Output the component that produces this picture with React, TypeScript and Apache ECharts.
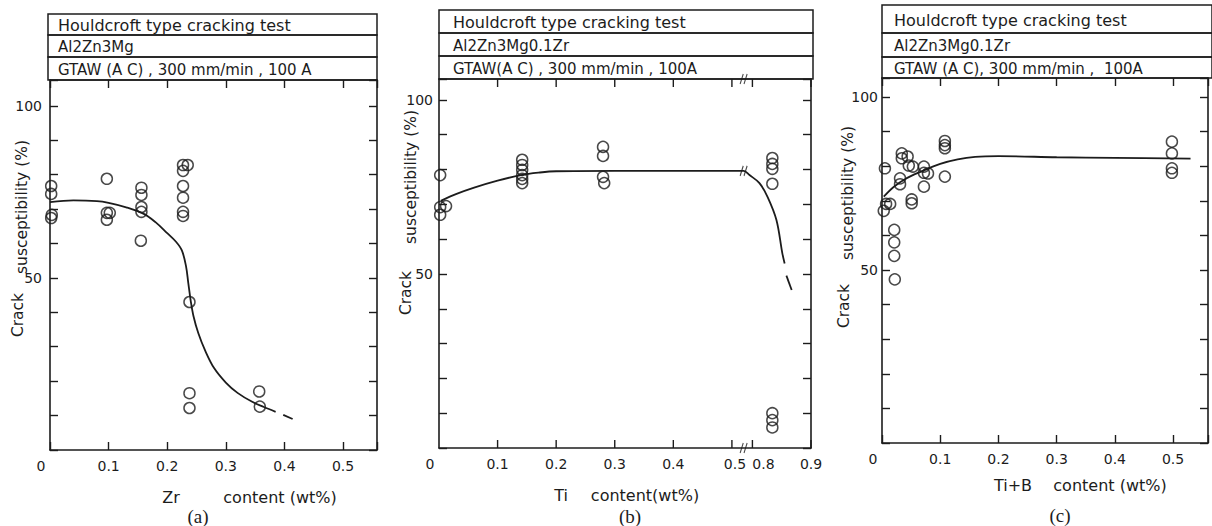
import React, { useEffect, useRef } from "react";
import * as echarts from "echarts";

const FONT = "'DejaVu Sans', 'Noto Sans', sans-serif";
const SERIF = "'Liberation Serif', 'DejaVu Serif', serif";
const INK = "#1c1c1c";

// ---------- common texts ----------
const headerTitle = "Houldcroft type cracking test";
const alloyA = "Al2Zn3Mg";
const alloyB = "Al2Zn3Mg0.1Zr";
const alloyC = "Al2Zn3Mg0.1Zr";
const weldA = "GTAW (A C) , 300 mm/min , 100 A";
const weldB = "GTAW(A C) , 300 mm/min , 100A";
const weldC = "GTAW (A C), 300 mm/min ,  100A";
const yTitleTop = "susceptibility (%)";
const yTitleBottom = "Crack";

// ---------- y axis (all panels) ----------
const yTickStep = 10;
const yLabelValues = [50, 100];

// ---------- panel (a): Zr ----------
const zrPoints = [
  [0.002, 76.7], [0.002, 74.4], [0.003, 68.3], [0.002, 67.4],
  [0.097, 78.8], [0.097, 68.9], [0.097, 66.9], [0.102, 68.9],
  [0.156, 76.2], [0.156, 74.1], [0.156, 70.6], [0.156, 69.2], [0.155, 60.8],
  [0.227, 82.8], [0.235, 82.8], [0.227, 81.1], [0.227, 76.7], [0.227, 73.3], [0.227, 69.2], [0.227, 68.0],
  [0.238, 43.0], [0.238, 16.5], [0.238, 12.2],
  [0.357, 17.0], [0.358, 12.6],
];
const zrCurve = [
  [0.0, 72.0], [0.04, 72.5], [0.08, 72.3], [0.1, 71.8], [0.13, 70.5], [0.16, 68.6],
  [0.18, 66.2], [0.2, 63.0], [0.215, 60.5], [0.225, 58.0], [0.232, 53.5], [0.236, 48.5],
  [0.24, 43.5], [0.245, 38.8], [0.253, 34.0], [0.265, 28.8], [0.28, 23.8], [0.3, 19.6],
  [0.32, 16.6], [0.345, 14.0], [0.365, 12.5], [0.385, 11.1],
];
const zrCurveTail = [[0.398, 10.2], [0.414, 9.0]];
const zrXStep = 0.1;
const zrXLabels = [0, 0.1, 0.2, 0.3, 0.4, 0.5];

// ---------- panel (b): Ti (broken axis 0.52 -> 0.785) ----------
const tiBreakStart = 0.52;
const tiBreakShift = 0.265;
const tiPoints = [
  [0.002, 78.4], [0.002, 69.2], [0.002, 67.0], [0.012, 69.5],
  [0.142, 82.8], [0.142, 81.3], [0.142, 79.9], [0.142, 78.4], [0.142, 77.3], [0.142, 76.1],
  [0.28, 86.5], [0.28, 83.9], [0.28, 77.9], [0.282, 76.1],
  [0.834, 83.3], [0.834, 81.6], [0.834, 80.2], [0.834, 75.9],
  [0.834, 10.0], [0.834, 8.0], [0.834, 5.9],
];
const tiCurve = [
  [0.003, 71.0], [0.03, 73.0], [0.06, 74.8], [0.1, 76.8], [0.14, 78.4], [0.17, 79.1],
  [0.2, 79.5], [0.3, 79.6], [0.4, 79.6], [0.52, 79.6],
  [0.795, 78.4], [0.812, 76.1], [0.826, 72.1], [0.841, 65.5], [0.851, 56.0], [0.855, 53.0],
];
const tiCurveTail = [[0.858, 49.5], [0.867, 45.4]];
const tiXTicks = [0.1, 0.2, 0.3, 0.4, 0.5, 0.8, 0.9];
const tiXLabels = [0, 0.1, 0.2, 0.3, 0.4, 0.5, 0.8, 0.9];
const tiBreakMarkY = [0, 106, 79.6];

// ---------- panel (c): Ti+B ----------
const tibPoints = [
  [0.005, 79.4], [0.003, 67.1], [0.007, 69.1], [0.014, 69.1],
  [0.021, 61.6], [0.021, 58.0], [0.021, 54.1], [0.022, 47.3],
  [0.031, 76.5], [0.031, 74.8], [0.034, 83.7], [0.034, 82.3],
  [0.044, 82.8], [0.046, 80.2], [0.053, 79.9], [0.051, 70.4], [0.051, 69.3],
  [0.072, 79.9], [0.072, 78.1], [0.072, 74.1], [0.079, 77.9],
  [0.108, 87.3], [0.108, 86.1], [0.108, 85.2], [0.108, 77.0],
  [0.498, 87.1], [0.498, 83.7], [0.498, 79.4], [0.498, 78.1],
];
const tibCurve = [
  [0.003, 71.2], [0.02, 74.0], [0.04, 76.3], [0.065, 78.3], [0.1, 80.7], [0.13, 82.0],
  [0.16, 82.7], [0.2, 82.9], [0.3, 82.6], [0.4, 82.4], [0.53, 82.2],
];
const tibXStep = 0.1;
const tibXLabels = [0, 0.1, 0.2, 0.3, 0.4, 0.5];

// ---------- helpers ----------
const tiToDisplay = (v: number) => (v > tiBreakStart + 1e-9 ? v - tiBreakShift : v);
const tiFromDisplay = (d: number) => (d > tiBreakStart + 1e-6 ? d + tiBreakShift : d);
const fmtTick = (v: number) => (Math.abs(v) < 1e-9 ? "{z|0}" : v.toFixed(1));
const fmtTiTick = (d: number) => {
  const v = tiFromDisplay(d);
  const s = fmtTick(v);
  if (Math.abs(v - 0.5) < 1e-6) return "{l|" + s + "}";
  if (Math.abs(v - 0.8) < 1e-6) return "{r|" + s + "}";
  return s;
};

const axisLine = { show: true, onZero: false, lineStyle: { color: INK, width: 1.6 } };
const tickStyle = { color: INK, width: 1.4 };
const richBase = { fontFamily: FONT, fontSize: 14, color: INK };

function xPair(gi: number, max: number, step: number | null, labels: number[], fmt: (v: number) => string) {
  const base: any = {
    type: "value", gridIndex: gi, min: 0, max, splitLine: { show: false }, axisLine,
    ...(step ? { interval: step } : {}),
  };
  const tick: any = { show: !!step, inside: true, length: 8, lineStyle: tickStyle };
  return [
    {
      ...base, position: "bottom", axisTick: tick,
      axisLabel: {
        show: true, customValues: labels, formatter: fmt, margin: 9,
        color: INK, fontFamily: FONT, fontSize: 14,
        rich: {
          z: { ...richBase, padding: [0, 18, 0, 0] },
          l: { ...richBase, padding: [0, 0, 0, 6] },
          r: { ...richBase, padding: [0, 0, 0, 22] },
        },
      },
    },
    { ...base, position: "top", axisTick: tick, axisLabel: { show: false } },
  ];
}

function yPair(gi: number, max: number, margin: number) {
  const base: any = {
    type: "value", gridIndex: gi, min: 0, max, interval: yTickStep, splitLine: { show: false }, axisLine,
  };
  const tick = { show: true, inside: true, length: 8, lineStyle: tickStyle };
  return [
    {
      ...base, position: "left", axisTick: tick,
      axisLabel: {
        show: true, customValues: yLabelValues, margin, color: INK, fontFamily: FONT, fontSize: 14,
        formatter: (v: number) => (v === 50 || v === 100 ? String(v) : ""),
      },
    },
    { ...base, position: "right", axisTick: tick, axisLabel: { show: false } },
  ];
}

function scatter(gi: number, data: number[][]) {
  return {
    type: "scatter", xAxisIndex: gi * 2, yAxisIndex: gi * 2, data, symbol: "circle", symbolSize: 11,
    itemStyle: { color: "rgba(0,0,0,0)", borderColor: INK, borderWidth: 1.5 }, silent: true, z: 3,
  };
}
function curve(gi: number, data: number[][]) {
  return {
    type: "line", xAxisIndex: gi * 2, yAxisIndex: gi * 2, data, smooth: 0.35, symbol: "none",
    lineStyle: { color: INK, width: 1.8 }, silent: true, z: 2,
  };
}

const grids = [
  { left: 50, top: 80, width: 327, height: 370 },
  { left: 439, top: 79, width: 372, height: 369 },
  { left: 882, top: 78, width: 326, height: 365 },
];
const yMaxes = [107.5, 106, 105.5];
const xMaxes = [0.558, 0.635, 0.56];

const headers = [
  { x: 48, w: 329, rows: [14, 35, 57, 80], tx: 58, texts: [headerTitle, alloyA, weldA] },
  { x: 439, w: 374, rows: [10, 33, 56, 79], tx: 453, texts: [headerTitle, alloyB, weldB] },
  { x: 882, w: 330, rows: [5, 33, 57, 78], tx: 894, texts: [headerTitle, alloyC, weldC] },
];

const yTitles = [
  { top: [22, 207], bottom: [18, 315] },
  { top: [411, 177], bottom: [406, 293] },
  { top: [848, 193], bottom: [844, 306] },
];
const xTitles = [
  { lead: "Zr", leadPos: [171, 497], rest: "content (wt%)", restPos: [280, 497] },
  { lead: "Ti", leadPos: [561, 495], rest: "content(wt%)", restPos: [645, 495] },
  { lead: "Ti+B", leadPos: [1013, 485], rest: "content (wt%)", restPos: [1110, 485] },
];
const captions = [
  { t: "(a)", p: [198, 516] },
  { t: "(b)", p: [630, 516] },
  { t: "(c)", p: [1060, 515] },
];

function txt(text: string, x: number, y: number, size: number, opts: any = {}) {
  return {
    type: "text", x, y, rotation: opts.rotation || 0, silent: true,
    style: {
      text, fill: INK, fontSize: size, fontFamily: opts.family || FONT,
      align: opts.align || "center", textAlign: opts.align || "center",
      verticalAlign: "middle", textVerticalAlign: "middle",
    },
  };
}

function buildOption() {
  const graphic: any[] = [];
  headers.forEach((h) => {
    for (let r = 0; r < 3; r++) {
      graphic.push({
        type: "rect", silent: true,
        shape: { x: h.x, y: h.rows[r], width: h.w, height: h.rows[r + 1] - h.rows[r] },
        style: { fill: "none", stroke: INK, lineWidth: 1.5 },
      });
      graphic.push(txt(h.texts[r], h.tx, (h.rows[r] + h.rows[r + 1]) / 2 + 1, r === 0 ? 16 : 15, { align: "left" }));
    }
  });
  yTitles.forEach((t) => {
    graphic.push(txt(yTitleTop, t.top[0], t.top[1], 15.5, { rotation: Math.PI / 2 }));
    graphic.push(txt(yTitleBottom, t.bottom[0], t.bottom[1], 15.5, { rotation: Math.PI / 2 }));
  });
  xTitles.forEach((t) => {
    graphic.push(txt(t.lead, t.leadPos[0], t.leadPos[1], 16));
    graphic.push(txt(t.rest, t.restPos[0], t.restPos[1], 16));
  });
  captions.forEach((c) => graphic.push(txt(c.t, c.p[0], c.p[1], 19, { family: SERIF })));

  const xAxis = [
    ...xPair(0, xMaxes[0], zrXStep, zrXLabels, fmtTick),
    ...xPair(1, xMaxes[1], null, tiXLabels.map(tiToDisplay), fmtTiTick),
    ...xPair(2, xMaxes[2], tibXStep, tibXLabels, fmtTick),
  ];
  const yAxis = [...yPair(0, yMaxes[0], 8), ...yPair(1, yMaxes[1], 6), ...yPair(2, yMaxes[2], 4)];

  const tiDisp = (arr: number[][]) => arr.map(([x, y]) => [tiToDisplay(x), y]);

  const series: any[] = [
    curve(0, zrCurve), curve(0, zrCurveTail), scatter(0, zrPoints),
    curve(1, tiDisp(tiCurve)), curve(1, tiDisp(tiCurveTail)), scatter(1, tiDisp(tiPoints)),
    {
      // irregular ticks of the broken Ti axis (bottom and top edges)
      type: "custom", xAxisIndex: 2, yAxisIndex: 2, silent: true, z: 5,
      data: tiXTicks.map((v) => [tiToDisplay(v), 0]),
      renderItem: (_p: any, api: any) => {
        const x = api.value(0);
        const b = api.coord([x, 0]);
        const t = api.coord([x, yMaxes[1]]);
        const st = { stroke: INK, lineWidth: 1.4 };
        return {
          type: "group",
          children: [
            { type: "line", shape: { x1: b[0], y1: b[1], x2: b[0], y2: b[1] - 8 }, style: st },
            { type: "line", shape: { x1: t[0], y1: t[1], x2: t[0], y2: t[1] + 8 }, style: st },
          ],
        };
      },
    },
    {
      type: "scatter", xAxisIndex: 2, yAxisIndex: 2,
      data: tiBreakMarkY.map((y) => [tiBreakStart, y]),
      symbol: "path://M0,12 L4,0 M5,12 L9,0", symbolSize: [7, 10],
      itemStyle: { color: "rgba(0,0,0,0)", borderColor: INK, borderWidth: 1.3 }, silent: true, z: 4,
    },
    curve(2, tibCurve), scatter(2, tibPoints),
  ];

  return {
    animation: false,
    backgroundColor: "#ffffff",
    grid: grids.map((g) => ({ ...g, containLabel: false })),
    xAxis,
    yAxis,
    series,
    graphic,
  };
}

export default function App() {
  const ref = useRef<HTMLDivElement>(null);
  useEffect(() => {
    document.body.style.margin = "0";
    const chart = echarts.init(ref.current as HTMLDivElement, null, { renderer: "svg" });
    chart.setOption(buildOption() as any);
    return () => chart.dispose();
  }, []);
  return <div ref={ref} style={{ width: 1212, height: 526 }} />;
}
